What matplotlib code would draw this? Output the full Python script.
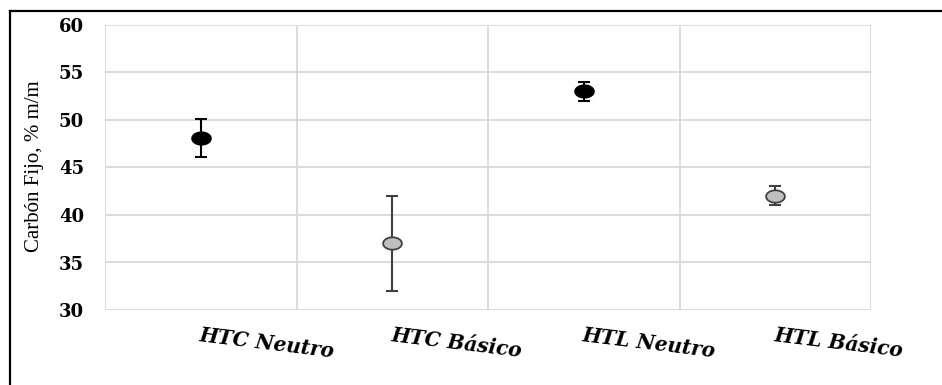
import matplotlib
matplotlib.use("Agg")
import matplotlib.pyplot as plt
from matplotlib.path import Path
from matplotlib.lines import Line2D
import numpy as np

categories = ["HTC Neutro", "HTC Básico", "HTL Neutro", "HTL Básico"]
values = [48.1, 37.0, 53.05, 42.0]
errors = [2.0, 5.0, 1.0, 1.0]
face_colors = ["#000000", "#bfbfbf", "#000000", "#bfbfbf"]
edge_colors = ["#000000", "#404040", "#000000", "#404040"]
yticks = [30, 35, 40, 45, 50, 55, 60]
ylabel = "Carbón Fijo, % m/m"

W, H = 942, 385
fig = plt.figure(figsize=(W / 100, H / 100), dpi=100)
ax = fig.add_axes([105 / W, 75 / H, 766 / W, 285 / H])

# elliptical marker (image appears horizontally stretched)
t = np.linspace(0, 2 * np.pi, 60)
ell = Path(np.column_stack([np.cos(t), 0.66 * np.sin(t)]), closed=True)

x = np.arange(len(categories))
for i in range(len(categories)):
    ax.errorbar(x[i], values[i], yerr=errors[i], fmt="none",
                ecolor=edge_colors[i], elinewidth=1.5, capsize=4.5,
                capthick=1.5, zorder=3)
    ax.plot(x[i], values[i], marker=ell, markersize=13.5,
            markerfacecolor=face_colors[i], markeredgecolor=edge_colors[i],
            markeredgewidth=1.3, linestyle="none", zorder=4)

ax.set_xlim(-0.5, len(categories) - 0.5)
ax.set_ylim(30, 60)
ax.set_yticks(yticks)
ax.set_yticklabels([str(v) for v in yticks], family="DejaVu Serif",
                   fontweight="heavy", fontsize=13)
ax.tick_params(axis="y", length=0, pad=15)
ax.tick_params(axis="x", length=0)
ax.set_xticks([])

grid_c = "#d9d9d9"
for yv in yticks:
    ax.axhline(yv, color=grid_c, lw=1.3, zorder=1)
for xv in np.arange(-0.5, len(categories), 1.0):
    ax.axvline(xv, color=grid_c, lw=1.3, zorder=1)
for s in ax.spines.values():
    s.set_visible(False)

for i, c in enumerate(categories):
    ax.annotate(c, xy=(x[i], 30), xycoords="data", xytext=(0, -11),
                textcoords="offset points", ha="left", va="top",
                rotation=-7, rotation_mode="anchor",
                family="DejaVu Serif", fontweight="bold", style="italic",
                fontsize=14.5)

fig.text(35 / W, 1 - 166 / H, ylabel, rotation=90, ha="center", va="center",
         family="Liberation Serif", fontsize=15)

# outer frame (left and top edges)
fig.add_artist(Line2D([10 / W, 10 / W], [0, 1 - 10.5 / H], color="black",
                      lw=1.6, transform=fig.transFigure))
fig.add_artist(Line2D([10 / W, 1], [1 - 10.5 / H, 1 - 10.5 / H],
                      color="black", lw=1.6, transform=fig.transFigure))

fig.savefig("out.png", dpi=100)
